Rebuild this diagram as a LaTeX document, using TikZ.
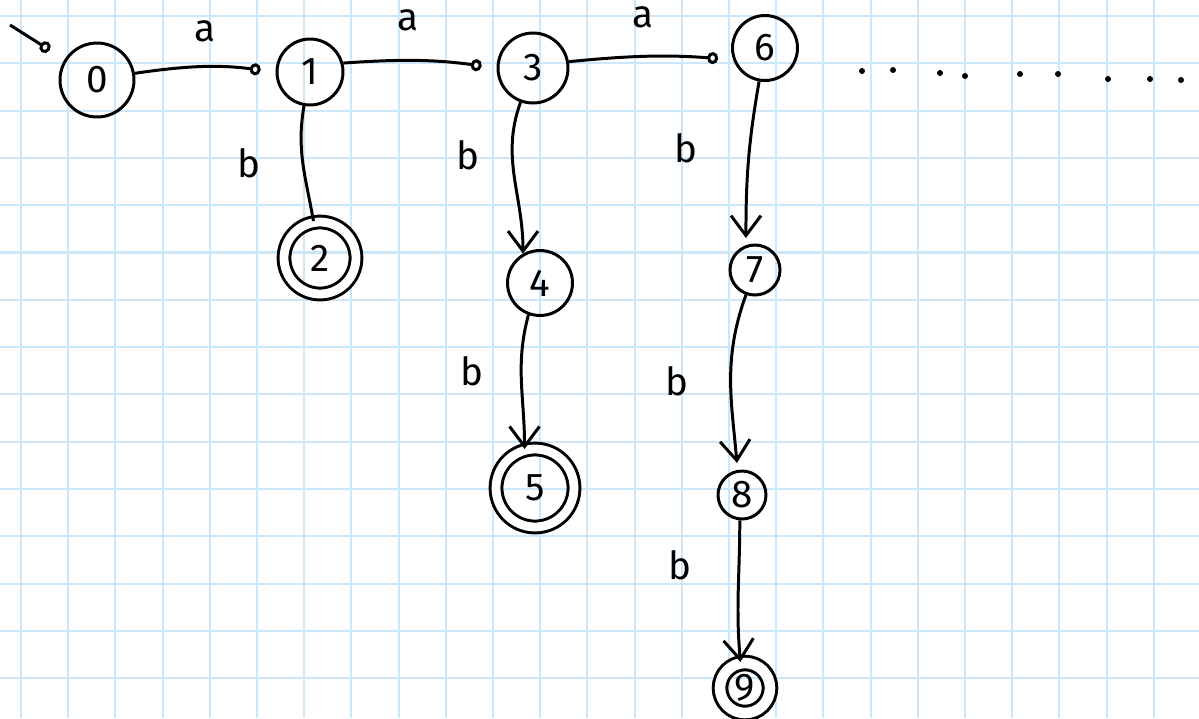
\documentclass[tikz,border=0pt]{standalone}
\usepackage{fontspec}
\setmainfont{Fira Sans}
\usetikzlibrary{arrows.meta}
\definecolor{gridblue}{RGB}{204,230,250}
\tikzset{
  st/.style   = {draw, circle, line width=1.7pt, inner sep=0pt,
                 minimum size=1.3cm, font=\fontsize{22}{24}\selectfont},
  acc/.style  = {st, double, double distance=5pt},
  aar/.style  = {-{Circle[open,length=2.2mm,width=2.4mm]}, line width=1.7pt,
                 shorten >=0.3cm},
  bar/.style  = {-{Straight Barb[length=4mm,width=6mm]}, line width=1.7pt},
  lab/.style  = {font=\fontsize{22}{24}\selectfont},
  gridline/.style = {gridblue, line width=1.2pt}
}

\begin{document}
\begin{tikzpicture}[x=0.02cm,y=-0.02cm]
  \useasboundingbox (0,0) rectangle (1199,718);
  % squared paper
  \foreach \i in {0,...,25}
    \draw[gridline] ({21+47.2*\i},0) -- ++(0,718);
  \foreach \j in {0,...,14}
    \draw[gridline] (0,{16+47.3*\j}) -- ++(1199,0);

  % states
  \node[st, minimum size=1.48cm] (q0) at (97,80)  {0};
  \node[st, minimum size=1.32cm] (q1) at (310,72) {1};
  \node[acc, minimum size=1.44cm] (q2) at (320,258) {2};
  \node[st, minimum size=1.4cm]  (q3) at (533,68) {3};
  \node[st, minimum size=1.3cm]  (q4) at (540,283) {4};
  \node[acc, minimum size=1.56cm] (q5) at (535,488) {5};
  \node[st, minimum size=1.3cm]  (q6) at (765,48) {6};
  \node[st, minimum size=1.0cm]  (q7) at (755,270) {7};
  \node[st, minimum size=0.96cm] (q8) at (742,495) {8};
  \node[acc, minimum size=1.0cm, double distance=6pt] (q9) at (745,688) {9};

  % start
  \coordinate (in0) at (10,25);
  \draw[aar, shorten >=0.35cm] (in0) -- (q0);

  % a-transitions
  \draw[aar] (q0.10) to[bend left=8] node[lab, above=0.35cm] {a} (q1.west);
  \draw[aar] (q1.15) to[bend left=6]
        node[lab, above=0.45cm, xshift=-0.25cm] {a} (q3.west);
  \draw[aar] (q3.10) to[bend left=5]
        node[lab, above=0.42cm, xshift=-0.15cm] {a} (q6.200);

  % b-transitions
  \draw[line width=1.7pt] (q1.260) to[out=260,in=100]
        node[lab, left=0.7cm] {b} (q2.100);
  \draw[bar] (q3.250) to[out=250,in=90]
        node[lab, pos=0.35, left=0.5cm] {b} (q4.120);
  \draw[bar] (q4.250) to[out=255,in=90]
        node[lab, pos=0.42, left=0.6cm] {b} (q5.105);
  \draw[bar, shorten >=4pt] (q6.260) to[out=260,in=90]
        node[lab, pos=0.4, left=0.9cm] {b} (q7.110);
  \draw[bar, shorten >=4pt] (q7.250) to[out=250,in=95]
        node[lab, left=0.7cm] {b} (q8.100);
  \draw[bar] (q8.265) to[out=270,in=95]
        node[lab, pos=0.3, left=0.8cm] {b} (q9.100);

  % and so on
  \foreach \x/\y in {862/71, 893/70, 940/73, 965/76, 1020/74,
                     1058/74, 1108/79, 1150/79, 1181/80}
    \fill (\x,\y) circle[radius=0.06cm];
\end{tikzpicture}
\end{document}
